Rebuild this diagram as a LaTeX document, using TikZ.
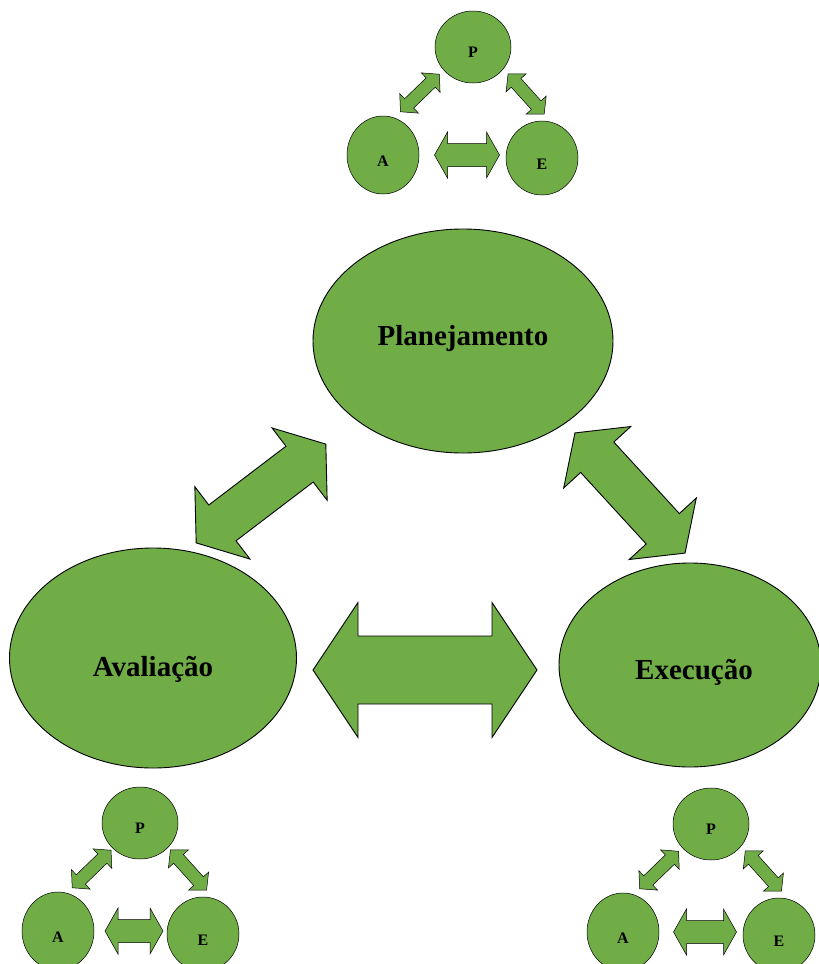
\documentclass[tikz,border=0pt]{standalone}
\usepackage{fontspec}
\setmainfont{Liberation Serif}
\usetikzlibrary{shapes.geometric}
\definecolor{leaf}{HTML}{70AD47}
\tikzset{
  big/.style={ellipse, draw, fill=leaf, inner sep=0pt},
  small/.style={ellipse, draw, fill=leaf, inner sep=0pt},
  letter/.style={font=\bfseries\fontsize{16}{18}\selectfont},
  word/.style={font=\bfseries\fontsize{29}{34}\selectfont},
  blockarrow/.style={draw, fill=leaf, line join=miter},
  pics/biarrow/.style n args={4}{code={
    \pgfmathsetmacro\arHalf{#1/2}
    \pgfmathsetmacro\arBase{#1/2-#2}
    \pgfmathsetmacro\arShaft{#3/2}
    \pgfmathsetmacro\arHead{#4/2}
    \draw[blockarrow] (-\arHalf,0) -- (-\arBase,\arHead) -- (-\arBase,\arShaft) -- (\arBase,\arShaft)
      -- (\arBase,\arHead) -- (\arHalf,0) -- (\arBase,-\arHead) -- (\arBase,-\arShaft)
      -- (-\arBase,-\arShaft) -- (-\arBase,-\arHead) -- cycle;
  }},
  % #1 = x of A, #2 = x of E, #3 = length of the lower arrow
  pics/triad/.style n args={3}{code={
    \pgfmathsetmacro\trL{0.59*#1}
    \pgfmathsetmacro\trR{0.77*#2}
    \node[small, minimum width=76pt, minimum height=72pt] (-p) at (0,0) {};
    \node[small, minimum width=72pt, minimum height=78pt] (-a) at (#1,108) {};
    \node[small, minimum width=72pt, minimum height=74pt] (-e) at (#2,111) {};
    \node[letter] (-lp) at (0,5) {P};
    \node[letter] (-la) at (#1,114) {A};
    \node[letter] (-le) at (#2,117) {E};
    \pic[rotate=44] at (\trL,46) {biarrow={54}{12}{13}{27}};
    \pic[rotate=-48] at (\trR,47) {biarrow={54}{12}{13}{27}};
    \pic at (-6,108) {biarrow={#3}{13}{23}{46}};
  }}
}
\begin{document}
\begin{tikzpicture}[x=1pt, y=-1pt, line width=0.9pt]
  \useasboundingbox (0,0) rectangle (819,964);
  \clip (0,0) rectangle (819,964);
  % the three phases
  \node[big, minimum width=300pt, minimum height=224pt] (plan) at (463,341) {};
  \node[big, minimum width=287pt, minimum height=220pt] (aval) at (153,658) {};
  \node[big, minimum width=262pt, minimum height=204pt] (exec) at (690,665) {};
  \node[word] (lplan) at (463,339) {Planejamento};
  \node[word] (laval) at (153,669) {Avaliação};
  \node[word] (lexec) at (694,672) {Execução};
  % links between them
  \pic[rotate=37.3] at (261,493.5) {biarrow={163}{33}{45}{91}};
  \pic[rotate=-47.5] at (630,493) {biarrow={163}{33}{45}{91}};
  \pic at (425,670) {biarrow={224}{45}{68}{135}};
  % the cycle again inside each phase
  \pic[line width=0.5pt] (top) at (473,47) {triad={-90}{69}{65}};
  \pic[line width=0.5pt] (left) at (140,823) {triad={-82}{63}{58}};
  \pic[line width=0.5pt] (right) at (711,824) {triad={-88}{68}{63}};
\end{tikzpicture}
\end{document}
